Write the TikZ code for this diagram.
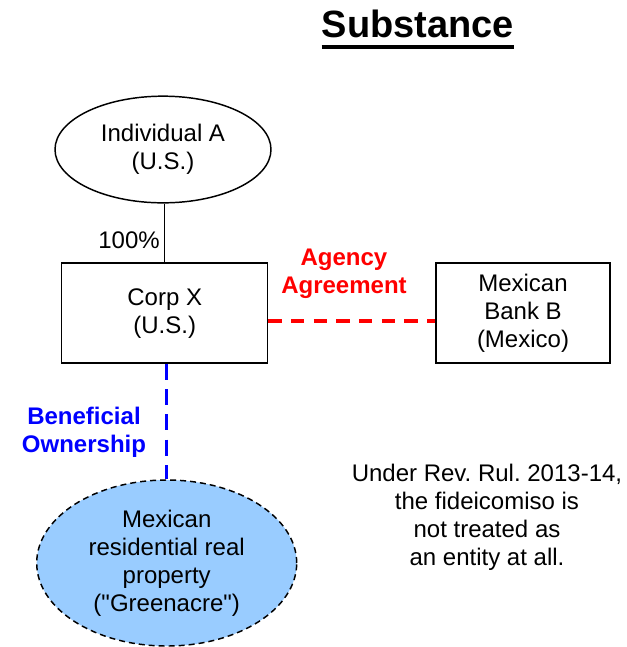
\documentclass[tikz,border=0pt]{standalone}
\usepackage{fontspec}
\setmainfont{Liberation Sans}[Ligatures=TeXOff]
\usetikzlibrary{shapes.geometric,calc}
\definecolor{lightblue}{HTML}{99CCFF}
\definecolor{agred}{HTML}{FF0000}
\definecolor{boblue}{HTML}{0000FF}
\frenchspacing
\begin{document}
\begin{tikzpicture}[x=0.75pt,y=-0.75pt,
  every node/.style={font=\fontsize{18}{21}\selectfont, align=center, inner sep=0pt},
  entbox/.style={draw, line width=1.1pt, minimum width=154.5pt, minimum height=75pt},
  oval/.style={draw, ellipse, line width=1.1pt},
  link/.style={draw, line width=1.1pt},
  redlink/.style={draw=agred, line width=2.3pt, dash pattern=on 10pt off 7pt},
  bluelink/.style={draw=boblue, line width=2.3pt, dash pattern=on 12pt off 7pt},
  redlabel/.style={text=agred, font=\fontsize{18}{21}\selectfont\bfseries},
  bluelabel/.style={text=boblue, font=\fontsize{18}{21}\selectfont\bfseries}
]
\useasboundingbox (0,0) rectangle (627,647);

% title
\node[font=\fontsize{28.5}{32}\selectfont\bfseries, anchor=base] (title) at (418,37) {Substance};
\draw[line width=3pt] ($(title.base west)+(0,10)$) coordinate (ulA) -- ($(title.base east)+(0,10)$) coordinate (ulB);

% nodes
\node[oval, minimum width=162pt, minimum height=80pt] (A) at (163,149.5) {Individual A\\(U.S.)};
\node[entbox] (corp) at (164.7,313) {\rule{0pt}{14pt}Corp X\\(U.S.)};
\node[entbox, minimum width=130.5pt] (bank) at (523,313) {\rule{0pt}{14pt}Mexican\\Bank B\\(Mexico)};
\node[oval, dashed, line width=1.1pt, dash pattern=on 4.5pt off 3pt, fill=lightblue, minimum width=195pt, minimum height=124.5pt] (green) at (166.7,563) {\rule{0pt}{14pt}Mexican\\residential real\\property\\("Greenacre")};

% connectors
\draw[link] (corp.north) -- (corp.north |- A.south);
\draw[redlink] ($(corp.east)+(0,8)$) -- ($(bank.west)+(0,8)$);
\draw[bluelink] (green.north |- corp.south) -- (green.north);

% labels
\node[anchor=base east] (pct) at (160,248) {100\%};
\node[redlabel] (agency) at (344,274) {Agency\\Agreement};
\node[bluelabel] (benef) at (84,432) {Beneficial\\Ownership};
\node (note) at (487,517) {Under Rev. Rul. 2013-14,\\the fideicomiso is\\not treated as\\an entity at all.};
\end{tikzpicture}
\end{document}
